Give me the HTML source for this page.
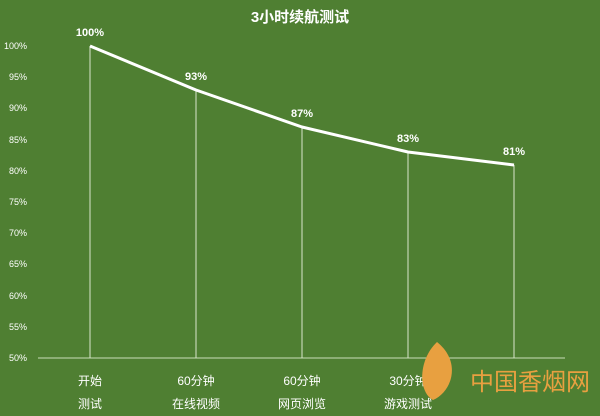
<!DOCTYPE html>
<html><head><meta charset="utf-8"><style>
body{margin:0;background:#4f7f32;}
svg{display:block}
text{font-family:"Liberation Sans","Noto Sans CJK SC",sans-serif;fill:#fff}
</style></head><body>
<svg width="600" height="416" viewBox="0 0 600 416">
<rect width="600" height="416" fill="#4f7f32"/>
<text x="300" y="22" font-size="15" font-weight="bold" text-anchor="middle">3小时续航测试</text>
<g font-size="9" text-anchor="end">
<text x="27" y="49">100%</text><text x="27" y="80">95%</text><text x="27" y="111">90%</text>
<text x="27" y="143">85%</text><text x="27" y="174">80%</text><text x="27" y="205">75%</text>
<text x="27" y="236">70%</text><text x="27" y="267">65%</text><text x="27" y="299">60%</text>
<text x="27" y="330">55%</text><text x="27" y="361">50%</text>
</g>
<line x1="38" y1="358" x2="565" y2="358" stroke="#c8dcb8" stroke-width="1"/>
<g stroke="#d8e6cc" stroke-width="1">
<line x1="90" y1="46" x2="90" y2="358"/><line x1="196" y1="90" x2="196" y2="358"/>
<line x1="302" y1="127" x2="302" y2="358"/><line x1="408" y1="152" x2="408" y2="358"/>
<line x1="514" y1="165" x2="514" y2="358"/>
</g>
<polyline points="90,46 196,90 302,127 408,152 514,165" fill="none" stroke="#fff" stroke-width="3" stroke-linejoin="round"/>
<g font-size="11" font-weight="bold" text-anchor="middle">
<text x="90" y="36">100%</text><text x="196" y="80">93%</text><text x="302" y="117">87%</text>
<text x="408" y="142">83%</text><text x="514" y="155">81%</text>
</g>
<g font-size="12" text-anchor="middle">
<text x="90" y="385">开始</text><text x="90" y="408">测试</text>
<text x="196" y="385">60分钟</text><text x="196" y="408">在线视频</text>
<text x="302" y="385">60分钟</text><text x="302" y="408">网页浏览</text>
<text x="408" y="385">30分钟</text><text x="408" y="408">游戏测试</text>
</g>
<path d="M437,342 C418,360 418,392 433,400 C452,392 462,362 437,342Z" fill="#e8a040"/>
<text x="470" y="390" font-size="24" style="fill:#e8a040">中国香烟网</text>
</svg>
</body></html>
